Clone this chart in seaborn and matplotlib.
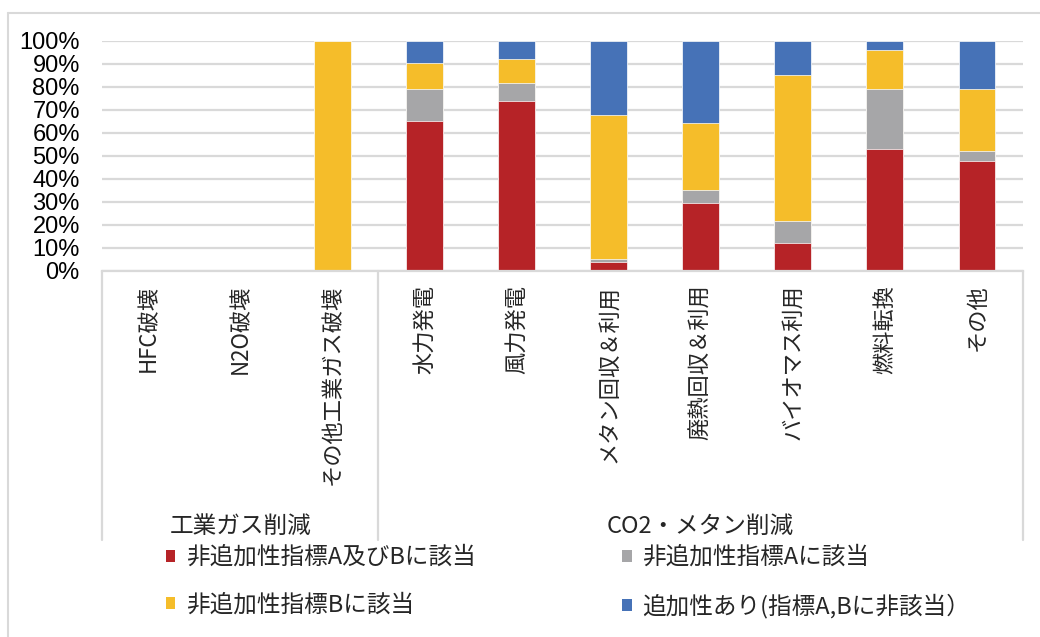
import numpy as np
import matplotlib
matplotlib.use("Agg")
import matplotlib.pyplot as plt
from matplotlib.patches import Patch
from matplotlib.lines import Line2D
from matplotlib.ticker import FuncFormatter
import seaborn as sns

# --- データ (%) ---
categories = ["HFC破壊", "N2O破壊", "その他工業ガス破壊", "水力発電", "風力発電",
              "メタン回収＆利用", "廃熱回収＆利用", "バイオマス利用", "燃料転換", "その他"]
groups = ["工業ガス削減", "CO2・メタン削減"]
group_sizes = [3, 7]

series_names = ["非追加性指標A及びBに該当", "非追加性指標Aに該当",
                "非追加性指標Bに該当", "追加性あり(指標A,Bに非該当）"]
val_ab = [0, 0, 0, 65.0, 73.6, 4.0, 29.3, 12.0, 52.7, 47.5]
val_a = [0, 0, 0, 14.0, 8.0, 1.0, 6.0, 9.5, 26.3, 4.4]
val_b = [0, 0, 100, 11.1, 10.3, 62.5, 28.7, 63.5, 17.0, 27.1]
val_add = [0, 0, 0, 9.9, 8.1, 32.5, 36.0, 15.0, 4.0, 21.0]

colors = ["#B62327", "#A6A6A8", "#F5BD2A", "#4672B7"]
GRID = "#d9d9d9"

sns.set_theme(style="white")
cjk = ["Noto Sans CJK JP", "DejaVu Sans"]
plt.rcParams["font.family"] = cjk

fig = plt.figure(figsize=(10.4, 6.37), dpi=100)
W, H = 1040, 637
ax = fig.add_axes([102 / W, 1 - 270.7 / H, (1023 - 102) / W, 230 / H])

# 積み上げ: 累積値を上から順に重ねて描く
cums = np.cumsum([val_ab, val_a, val_b, val_add], axis=0)
for i in range(3, -1, -1):
    sns.barplot(x=categories, y=cums[i], order=categories, color=colors[i],
                saturation=1, width=0.4, errorbar=None, ax=ax,
                edgecolor="white", linewidth=0.5)

ax.set_xlim(-0.5, len(categories) - 0.5)
ax.set_ylim(0, 100)
ax.set_yticks(np.arange(0, 101, 10))
ax.yaxis.set_major_formatter(FuncFormatter(lambda v, p: f"{v:.0f}%"))
ax.yaxis.grid(True, color=GRID, lw=1.6)
ax.set_axisbelow(True)
for s in ["top", "left", "right"]:
    ax.spines[s].set_visible(False)
ax.spines["bottom"].set_color(GRID)
ax.spines["bottom"].set_linewidth(1.6)
ax.set_xlabel("")
ax.set_ylabel("")

ax.tick_params(axis="x", length=0, pad=10)
ax.tick_params(axis="y", length=0, pad=16)
ax.set_xticks(range(len(categories)))
ax.set_xticklabels(categories, rotation=90, fontsize=16, family=cjk)
for t in ax.get_yticklabels():
    t.set_fontfamily(["Liberation Sans", "DejaVu Sans"])
    t.set_fontsize(17)
    t.set_color("black")

# 多段カテゴリの区切り線とグループ名
xt = ax.get_xaxis_transform()
bounds = np.cumsum([0] + group_sizes) - 0.5
for b in bounds:
    ax.plot([b, b], [0, -1.171], transform=xt, clip_on=False, color=GRID, lw=1.6)
for g, a, b in zip(groups, bounds[:-1], bounds[1:]):
    ax.text((a + b) / 2, -1.11, g, transform=xt, ha="center", va="center",
            fontsize=17, family=cjk)

# 外枠
fig.add_artist(Line2D([8 / W, 8 / W], [0, 1 - 13 / H], color=GRID, lw=1.5))
fig.add_artist(Line2D([8 / W, 1], [1 - 13 / H, 1 - 13 / H], color=GRID, lw=1.5))

handles = [Patch(facecolor=c, edgecolor="none") for c in colors]
order = [0, 2, 1, 3]
fig.legend([handles[i] for i in order], [series_names[i] for i in order],
           ncol=2, loc="upper left", bbox_to_anchor=(166 / W, 1 - 546 / H),
           frameon=False, borderpad=0, borderaxespad=0,
           handlelength=0.4, handleheight=0.4, handletextpad=0.45,
           columnspacing=6.2, labelspacing=1.05,
           prop={"family": cjk, "size": 17})

fig.savefig("out.png", dpi=100)
